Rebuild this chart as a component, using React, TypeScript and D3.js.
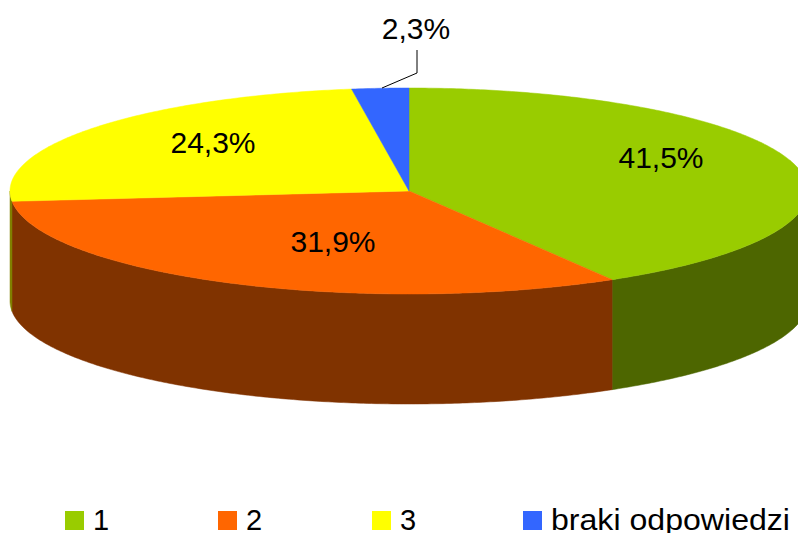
import React from "react";
import * as d3 from "d3";

const categories = ["1", "2", "3", "braki odpowiedzi"];
const values = [41.5, 31.9, 24.3, 2.3];
const labels = ["41,5%", "31,9%", "24,3%", "2,3%"];
const topColors = ["#99CC00", "#FF6600", "#FFFF00", "#3366FF"];
const sideColors = ["#4D6600", "#803300", "#808000", "#1A3380"];

const W = 798;
const H = 533;
const cx = 409;
const cy = 191;
const rx = 399;
const ry = 103;
const depth = 110;

const labelPos: [number, number][] = [
  [661, 168],
  [333, 252],
  [213, 153],
  [416, 39],
];

function pt(a: number, dy = 0): [number, number] {
  return [cx + rx * Math.sin(a), cy - ry * Math.cos(a) + dy];
}

function arcPoints(a0: number, a1: number, dy = 0): [number, number][] {
  const n = Math.max(2, Math.ceil(Math.abs(a1 - a0) / 0.01));
  const out: [number, number][] = [];
  for (let i = 0; i <= n; i++) out.push(pt(a0 + ((a1 - a0) * i) / n, dy));
  return out;
}

export default function App() {
  const pie = d3
    .pie<number>()
    .sort(null)
    .startAngle(0)
    .endAngle(2 * Math.PI)
    .value((d) => d);
  const arcs = pie(values);
  const line = d3.line();

  const sides: { d: string; c: string }[] = [];
  arcs.forEach((a, i) => {
    const s = Math.max(a.startAngle, Math.PI / 2);
    const e = Math.min(a.endAngle, (3 * Math.PI) / 2);
    if (e > s) {
      const top = arcPoints(s, e);
      const bot = arcPoints(e, s, depth);
      sides.push({ d: line([...top, ...bot])! + "Z", c: sideColors[i] });
    }
  });

  const tops = arcs.map((a, i) => {
    const pts: [number, number][] = [[cx, cy], ...arcPoints(a.startAngle, a.endAngle)];
    return { d: line(pts)! + "Z", c: topColors[i] };
  });

  const legendX = [65, 218, 372, 523];

  return (
    <svg
      width={W}
      height={H}
      style={{ position: "absolute", left: 0, top: 0, background: "#fff" }}
      fontFamily="Liberation Sans, Arial, sans-serif"
    >
      {sides.map((s, i) => (
        <path key={"s" + i} d={s.d} fill={s.c} stroke={s.c} strokeWidth={0.5} />
      ))}
      {tops.map((t, i) => (
        <path key={"t" + i} d={t.d} fill={t.c} stroke={t.c} strokeWidth={0.5} />
      ))}
      <polyline points="417,50 417,73 382,88" fill="none" stroke="#000" strokeWidth={1} />
      {labels.map((l, i) => (
        <text key={"l" + i} x={labelPos[i][0]} y={labelPos[i][1]} textAnchor="middle" fontSize={30} fill="#000">
          {l}
        </text>
      ))}
      {categories.map((c, i) => (
        <g key={"g" + i}>
          <rect x={legendX[i]} y={511} width={19} height={19} fill={topColors[i]} />
          <text
            x={legendX[i] + 28}
            y={530}
            fontSize={29}
            fill="#000"
            textLength={c.length > 3 ? 239 : undefined}
            lengthAdjust="spacingAndGlyphs"
          >
            {c}
          </text>
        </g>
      ))}
    </svg>
  );
}
